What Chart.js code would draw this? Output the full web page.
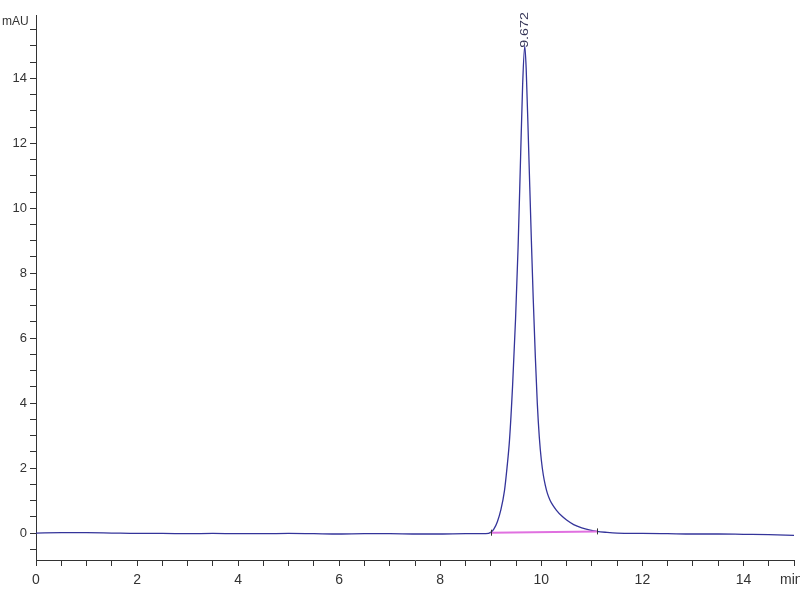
<!DOCTYPE html>
<html>
<head>
<meta charset="utf-8">
<script src="https://cdn.jsdelivr.net/npm/chart.js@4/dist/chart.umd.min.js"></script>
<style>
  html, body { margin: 0; padding: 0; background: #fff; }
  #wrap { width: 800px; height: 600px; position: relative; }
</style>
</head>
<body>
<div id="wrap"><canvas id="c" width="800" height="600"></canvas></div>
<script>
/* HPLC chromatogram, single peak at 9.672 min */
var TIMES = [0, 0.5, 1, 1.5, 2, 2.5, 3, 3.5, 4, 4.5, 5, 5.5, 6, 6.5, 7, 7.5, 8, 8.5, 8.9,
  9.0, 9.06, 9.13, 9.2, 9.27, 9.32, 9.37, 9.43, 9.49, 9.54, 9.59, 9.63, 9.672, 9.70,
  9.744, 9.803, 9.84, 9.882, 9.92, 9.96, 10.0, 10.04, 10.08, 10.12, 10.17, 10.23, 10.3, 10.4, 10.5, 10.64, 10.8, 10.97, 11.1, 11.3,
  11.5, 12, 12.5, 13, 13.5, 14, 14.5, 15];
var MAU = [0.0, 0.01, 0.01, 0.0, -0.01, -0.01, -0.02, -0.01, -0.02, -0.02, -0.01, -0.02, -0.03, -0.02, -0.02, -0.03, -0.03, -0.02, -0.02,
  0.02, 0.12, 0.35, 0.72, 1.3, 2.0, 2.86, 4.5, 6.6, 8.8, 11.6, 13.8, 15.0, 14.3,
  12.1, 9.0, 7.2, 5.4, 4.0, 2.95, 2.25, 1.78, 1.46, 1.22, 1.02, 0.85, 0.7, 0.53, 0.4, 0.26, 0.16, 0.09, 0.05, 0.02,
  0.0, -0.01, -0.02, -0.03, -0.03, -0.04, -0.05, -0.07];
var BASE_T = [9.0, 11.1];       // integration baseline
var BASE_V = [0.01, 0.05];
var PEAK_T = 9.672, PEAK_V = 15.0, PEAK_LABEL = '9.672';
var X_LABELS = [0, 2, 4, 6, 8, 10, 12, 14];
var Y_LABELS = [0, 2, 4, 6, 8, 10, 12, 14];

var INK = '#333';
var FONT = '"Liberation Sans", Arial, sans-serif';

function pts(t, v) { return t.map(function (x, i) { return { x: x, y: v[i] }; }); }
function halfSteps(a, b) { var o = []; for (var v = a; v <= b + 1e-9; v += 0.5) o.push({ value: Math.round(v * 10) / 10 }); return o; }

var extras = {
  id: 'extras',
  afterDatasetsDraw: function (ch) {
    var c = ch.ctx, xs = ch.scales.x, ys = ch.scales.y;
    c.save();
    // integration markers
    c.strokeStyle = INK; c.lineWidth = 1;
    BASE_T.forEach(function (t, i) {
      var px = Math.round(xs.getPixelForValue(t)) + 0.5, py = ys.getPixelForValue(BASE_V[i]);
      c.beginPath(); c.moveTo(px, py - 3); c.lineTo(px, py + 3); c.stroke();
    });
    // peak label, rotated
    var px = xs.getPixelForValue(PEAK_T), py = ys.getPixelForValue(PEAK_V);
    c.translate(px, py + 2); c.rotate(-Math.PI / 2); c.scale(1.3, 1);
    c.fillStyle = '#333355'; c.font = '11px ' + FONT;
    c.textAlign = 'left'; c.textBaseline = 'middle';
    c.fillText(PEAK_LABEL, 0, 0);
    c.restore();
    // axis units
    c.save();
    c.fillStyle = INK; c.textBaseline = 'middle'; c.textAlign = 'left';
    c.font = '12px ' + FONT;
    c.fillText('mAU', 2, 22);
    c.font = '14px ' + FONT;
    c.fillText('min', 780, 580);
    c.restore();
  }
};

new Chart(document.getElementById('c'), {
  type: 'line',
  data: {
    datasets: [
      { data: pts(BASE_T, BASE_V), borderColor: '#e070e0', borderWidth: 2, pointRadius: 0, tension: 0 },
      { data: pts(TIMES, MAU), borderColor: '#34349a', borderWidth: 1.3, pointRadius: 0, cubicInterpolationMode: 'monotone' }
    ]
  },
  options: {
    responsive: false, animation: false, events: [],
    layout: { padding: { top: 15, right: 3, left: 0, bottom: 0 } },
    plugins: { legend: { display: false }, tooltip: { enabled: false } },
    scales: {
      x: {
        type: 'linear', min: 0, max: 15,
        afterBuildTicks: function (s) { s.ticks = halfSteps(0, 15); },
        afterFit: function (s) { s.height = 40; },
        grid: { drawOnChartArea: false, tickLength: 6, color: INK },
        border: { color: INK, width: 1 },
        ticks: { autoSkip: false, maxRotation: 0, padding: 6, color: INK,
          font: { family: FONT, size: 14 },
          callback: function (v) { return X_LABELS.indexOf(v) >= 0 ? String(v) : ''; } }
      },
      y: {
        type: 'linear', min: -0.83, max: 15.95,
        afterBuildTicks: function (s) { s.ticks = halfSteps(-0.5, 15.5); },
        afterFit: function (s) { s.width = 36; },
        grid: { drawOnChartArea: false, tickLength: 6, color: INK },
        border: { color: INK, width: 1 },
        ticks: { autoSkip: false, padding: 3, color: INK,
          font: { family: FONT, size: 13 },
          callback: function (v) { return Y_LABELS.indexOf(v) >= 0 ? String(v) : ''; } }
      }
    }
  },
  plugins: [extras]
});
</script>
</body>
</html>
